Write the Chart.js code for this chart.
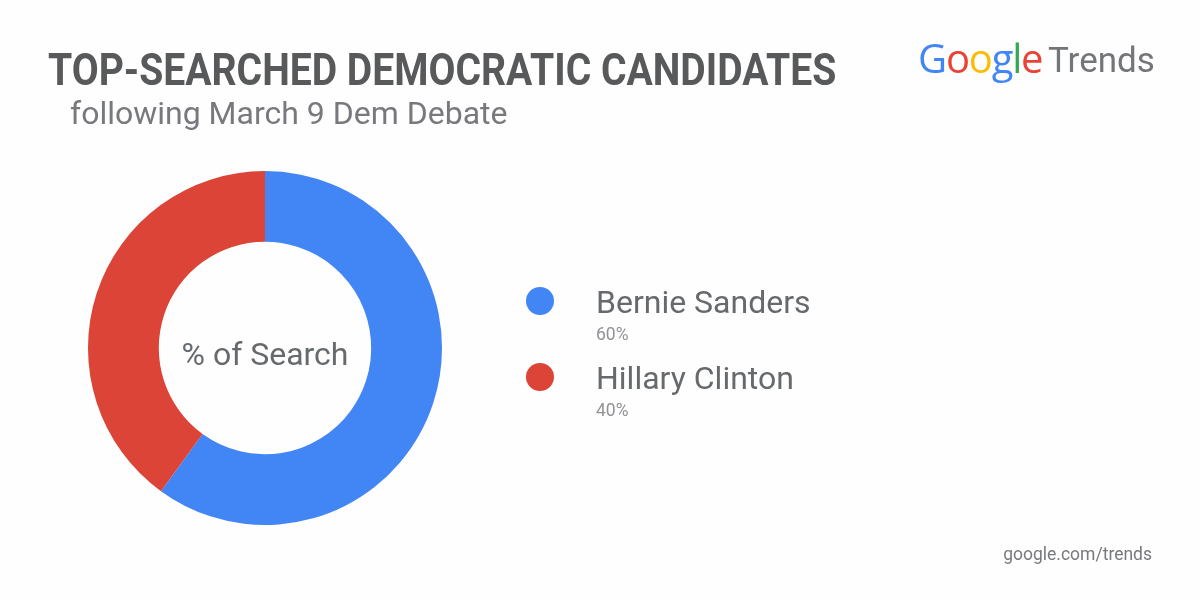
<!DOCTYPE html>
<html><head><meta charset="utf-8">
<script src="https://cdn.jsdelivr.net/npm/chart.js@4"></script>
<style>
html,body{margin:0;padding:0;background:#fefefe;overflow:hidden}
#wrap{position:relative;width:1200px;height:600px;font-family:Roboto,sans-serif}
canvas{position:absolute;left:0;top:0}
.t{position:absolute;white-space:nowrap;line-height:1}
#title{left:48px;top:48px;font-size:44px;font-weight:700;color:#58595b;transform-origin:0 0;letter-spacing:0}
#sub{left:70px;top:97px;font-size:32px;color:#77797c}
#center{left:265px;top:338px;transform:translateX(-50%);font-size:32px;color:#676a6d}
#foot{right:48px;top:546px;font-size:17.5px;color:#77797c}
.dot{position:absolute;left:526px;width:28px;height:28px;border-radius:50%}
.nm{left:596px;font-size:32px;color:#676a6d}
.pc{left:596px;font-size:17.5px;color:#909295}
#logo{left:918px;top:38px;font-size:40px;letter-spacing:-1.2px;font-family:"Open Sans",sans-serif}
#logo2{left:1048px;top:43px;font-size:35px;color:#737578;font-family:Roboto,sans-serif}
</style></head><body>
<div id="wrap">
<canvas id="c" width="1200" height="600"></canvas>
<div class="t" id="title">TOP-SEARCHED DEMOCRATIC CANDIDATES</div>
<div class="t" id="sub">following March 9 Dem Debate</div>
<div class="t" id="center">% of Search</div>
<div class="t" id="logo"><span style="color:#4285f4">G</span><span style="color:#ea4335">o</span><span style="color:#fbbc05">o</span><span style="color:#4285f4">g</span><span style="color:#34a853">l</span><span style="color:#ea4335">e</span></div>
<div class="t" id="logo2">Trends</div>
<div class="t" id="foot">google.com/trends</div>
<div id="legend"></div>
</div>
<script>
const categories = ["Bernie Sanders", "Hillary Clinton"];
const values = [60, 40];
const colors = ["#4285f4", "#db4437"];
const legendTops = [287, 363];

const title = document.getElementById('title');
title.style.transform = 'scaleX(' + (788 / title.offsetWidth) + ')';

new Chart(document.getElementById('c'), {
  type: 'doughnut',
  data: { labels: categories, datasets: [{ data: values, backgroundColor: colors, borderWidth: 0 }] },
  options: {
    responsive: false, animation: false, cutout: '60%', rotation: 0,
    layout: { padding: { left: 88, right: 758, top: 171, bottom: 75 } },
    plugins: { legend: { display: false }, tooltip: { enabled: false }, title: { display: false } }
  }
});

const lg = document.getElementById('legend');
categories.forEach((name, i) => {
  const y = legendTops[i];
  lg.insertAdjacentHTML('beforeend',
    `<div class="dot" style="top:${y}px;background:${colors[i]}"></div>` +
    `<div class="t nm" style="top:${y - 1}px">${name}</div>` +
    `<div class="t pc" style="top:${y + 39}px">${values[i]}%</div>`);
});
</script>
</body></html>
